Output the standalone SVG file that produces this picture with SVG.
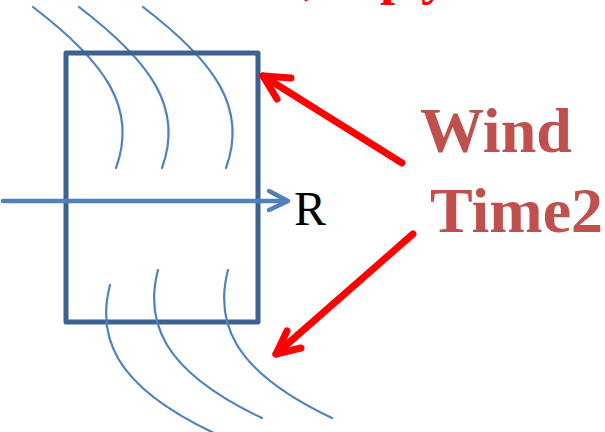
<svg xmlns="http://www.w3.org/2000/svg" width="605" height="432" viewBox="0 0 605 432">
<style>
.wave{fill:none;stroke:#4F81BD;stroke-width:2.2;stroke-linecap:round}
.red{fill:none;stroke:#FF0000;stroke-width:7;stroke-linecap:round;stroke-linejoin:round}
.blue{fill:none;stroke:#4F81BD;stroke-width:4.5;stroke-linecap:round;stroke-linejoin:round}
.lbl{font-family:"Liberation Serif",serif}
</style>
<rect width="605" height="432" fill="#FFFFFF"/>
<g id="title-fragment">
<text class="lbl" font-size="54" font-weight="bold" fill="#FF0000" y="-7"><tspan x="304">,</tspan><tspan x="380">p</tspan><tspan x="421">y</tspan></text>
</g>
<g id="waves-top">
<path class="wave" d="M33,7 C105,62 138,108 116,168"/>
<path class="wave" d="M33,7 C105,62 138,108 116,168" transform="translate(46,0)"/>
<path class="wave" d="M33,7 C105,62 138,108 116,168" transform="translate(110,0)"/>
</g>
<g id="box">
<rect x="66" y="53" width="192" height="269" fill="none" stroke="#3D6191" stroke-width="5" stroke-linejoin="round"/>
</g>
<g id="waves-bottom">
<path class="wave" d="M158,270 C145,320 160,370 262,418" transform="translate(-48,15)"/>
<path class="wave" d="M158,270 C145,320 160,370 262,418"/>
<path class="wave" d="M158,270 C145,320 160,370 262,418" transform="translate(70,0)"/>
</g>
<g id="connectors">
<path class="blue" d="M3,201 H287"/>
<path class="blue" d="M269,191 L288,201 L269,210"/>
<path class="red" d="M402,163 L263,76"/>
<path class="red" d="M291,78 L263,76 L277,99"/>
<path class="red" d="M413,234 L276,354"/>
<path class="red" d="M287,331 L276,354 L301,348"/>
</g>
<g id="label-R">
<text class="lbl" x="294" y="225" font-size="48" fill="#000000">R</text>
</g>
<g id="label-wind">
<text class="lbl" font-size="64" font-weight="bold" fill="#C0504D"><tspan x="420" y="152">Wind</tspan><tspan x="430" y="232">Time2</tspan></text>
</g>
</svg>
